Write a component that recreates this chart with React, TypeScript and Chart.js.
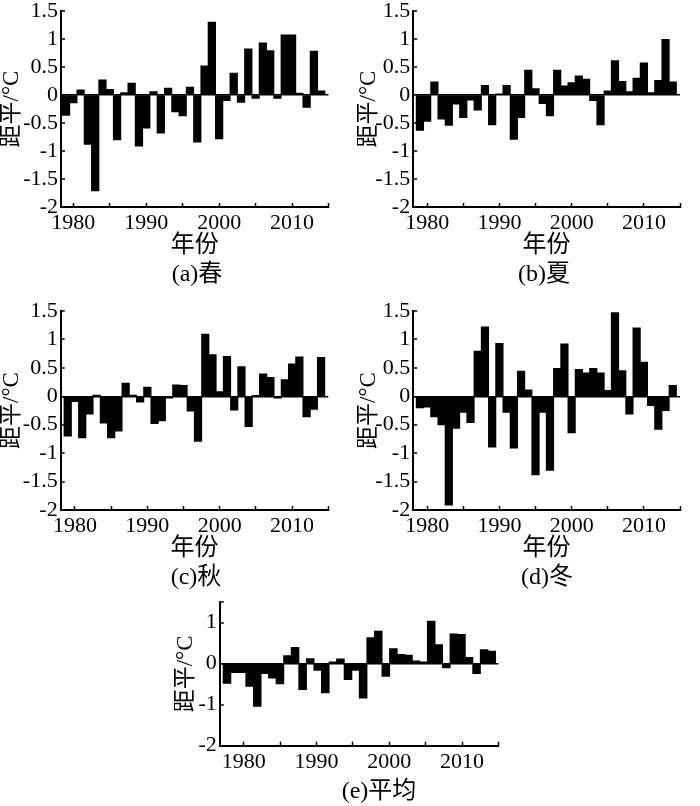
import React, { useEffect, useRef } from 'react';
import { Chart, registerables } from 'chart.js';

Chart.register(...registerables);

// ---- data ----
const years = [
  1979, 1980, 1981, 1982, 1983, 1984, 1985, 1986, 1987, 1988,
  1989, 1990, 1991, 1992, 1993, 1994, 1995, 1996, 1997, 1998,
  1999, 2000, 2001, 2002, 2003, 2004, 2005, 2006, 2007, 2008,
  2009, 2010, 2011, 2012, 2013, 2014,
];

const springValues = [
  -0.36, -0.14, 0.09, -0.88, -1.71, 0.27, 0.10, -0.80, 0.04, 0.21,
  -0.91, -0.59, 0.06, -0.68, 0.12, -0.30, -0.37, 0.14, -0.84, 0.52,
  1.30, -0.78, -0.10, 0.39, -0.13, 0.82, -0.06, 0.93, 0.79, -0.06,
  1.07, 1.07, 0.03, -0.22, 0.78, 0.07,
];

const summerValues = [
  -0.63, -0.47, 0.23, -0.43, -0.54, -0.16, -0.40, -0.09, -0.27, 0.17,
  -0.53, 0.02, 0.17, -0.79, -0.40, 0.44, 0.11, -0.15, -0.37, 0.44,
  0.16, 0.22, 0.34, 0.28, -0.10, -0.53, 0.07, 0.61, 0.24, 0.06,
  0.30, 0.57, 0.04, 0.26, 0.99, 0.23,
];

const autumnValues = [
  -0.70, -0.09, -0.73, -0.31, 0.02, -0.47, -0.73, -0.61, 0.23, 0.02,
  -0.10, 0.16, -0.48, -0.43, -0.03, 0.20, 0.19, -0.26, -0.79, 1.09,
  0.73, 0.08, 0.70, -0.24, 0.52, -0.53, 0.01, 0.39, 0.33, -0.03,
  0.29, 0.57, 0.69, -0.36, -0.23, 0.68,
];

const winterValues = [
  -0.20, -0.19, -0.36, -0.50, -1.91, -0.56, -0.28, -0.46, 0.79, 1.22,
  -0.89, 0.93, -0.28, -0.91, 0.44, 0.11, -1.38, -0.28, -1.30, 0.49,
  0.92, -0.64, 0.47, 0.41, 0.49, 0.41, 0.10, 1.47, 0.45, -0.31,
  1.20, 0.60, -0.16, -0.58, -0.25, 0.19,
];

const annualValues = [
  -0.48, -0.22, -0.22, -0.55, -1.04, -0.24, -0.35, -0.49, 0.19, 0.39,
  -0.63, 0.12, -0.16, -0.71, 0.04, 0.11, -0.39, -0.16, -0.84, 0.63,
  0.79, -0.31, 0.36, 0.22, 0.20, 0.06, 0.04, 1.03, 0.46, -0.10,
  0.72, 0.71, 0.15, -0.24, 0.34, 0.30,
];

const xTickLabels = ['1980', '1990', '2000', '2010'];
const seasonYTickLabels = ['-2', '-1.5', '-1', '-0.5', '0', '0.5', '1', '1.5'];
const annualYTickLabels = ['-2', '-1', '0', '1'];

const yTitle = '距平/°C';
const xTitle = '年份';

// ---- layout ----
const SERIF = "'Liberation Serif', 'Times New Roman', 'Noto Sans CJK SC', serif";

type Panel = {
  id: string;
  values: number[];
  caption: string;
  xTitle: string | null;
  yStep: number;
  yLabels: string[];
  cx: number; cy: number; cw: number; ch: number;
  L: number; T: number; R: number; B: number;
  xh: number;
  xMin: number; xMax: number;
  barMin?: number; barMax?: number;
  capX: number; capY: number;
};

const panels: Panel[] = [
  {
    id: 'a', values: springValues, caption: '(a)春', xTitle, yStep: 0.5, yLabels: seasonYTickLabels,
    cx: 0, cy: -20, cw: 345, ch: 280, L: 61, T: 11, R: 328.5, B: 207, xh: 50.5,
    xMin: 1978.31, xMax: 2015, capX: 197, capY: 273,
  },
  {
    id: 'b', values: summerValues, caption: '(b)夏', xTitle, yStep: 0.5, yLabels: seasonYTickLabels,
    cx: 356.5, cy: -20, cw: 343.5, ch: 280, L: 412.7, T: 11, R: 680, B: 207, xh: 50.5,
    xMin: 1978.07, xMax: 2015, capX: 544, capY: 273,
  },
  {
    id: 'c', values: autumnValues, caption: '(c)秋', xTitle, yStep: 0.5, yLabels: seasonYTickLabels,
    cx: 0, cy: 280, cw: 345, ch: 283, L: 60.7, T: 311, R: 328.3, B: 510, xh: 50.5,
    xMin: 1978.03, xMax: 2015, capX: 196, capY: 576,
  },
  {
    id: 'd', values: winterValues, caption: '(d)冬', xTitle, yStep: 0.5, yLabels: seasonYTickLabels,
    cx: 356.5, cy: 280, cw: 343.5, ch: 283, L: 412.7, T: 311, R: 680, B: 510, xh: 50.5,
    xMin: 1978.07, xMax: 2015, capX: 547, capY: 576,
  },
  {
    id: 'e', values: annualValues, caption: '(e)平均', xTitle: null, yStep: 1, yLabels: annualYTickLabels,
    cx: 173.5, cy: 570, cw: 340, ch: 208, L: 219.3, T: 602, R: 498, B: 745.7, xh: 30,
    xMin: 1976.7, xMax: 2015, barMin: 1978.05, barMax: 2014.9, capX: 379, capY: 790,
  },
];

function buildConfig(p: Panel): any {
  const yw = p.L - p.cx;
  const padTop = p.T - p.cy;
  const padRight = p.cx + p.cw - p.R;
  const padBottom = p.cy + p.ch - (p.B + p.xh);
  const tickFont = { family: SERIF, size: 22, lineHeight: 1 };
  const separateBarAxis = p.barMin !== undefined;

  const xAxis: any = {
    type: 'linear',
    position: 'bottom',
    min: p.xMin,
    max: p.xMax,
    offset: false,
    afterFit: (s: any) => { s.height = p.xh; },
    border: { display: true, color: '#000', width: 2 },
    grid: {
      offset: false,
      drawOnChartArea: false,
      drawTicks: true,
      tickLength: -4,
      tickColor: '#000',
      tickWidth: 1.5,
      color: '#000',
    },
    ticks: {
      stepSize: 5,
      includeBounds: false,
      autoSkip: false,
      maxRotation: 0,
      minRotation: 0,
      padding: 9.5,
      color: '#000',
      font: tickFont,
      callback: (v: any) => (xTickLabels.includes(String(v)) ? String(v) : ''),
    },
    title: {
      display: !!p.xTitle,
      text: p.xTitle || '',
      color: '#000',
      font: { family: SERIF, size: 24, lineHeight: 1 },
      padding: 0,
    },
  };

  const scales: any = {
    x: xAxis,
    y: {
      type: 'linear',
      position: 'left',
      min: -2,
      max: 1.5,
      afterFit: (s: any) => { s.width = yw; },
      border: { display: true, color: '#000', width: 2 },
      grid: {
        drawOnChartArea: true,
        drawTicks: true,
        tickLength: -4,
        tickColor: '#000',
        tickWidth: 1.5,
        color: (ctx: any) => (ctx.tick && ctx.tick.value === 0 ? '#000' : 'rgba(0,0,0,0)'),
        lineWidth: (ctx: any) => (ctx.tick && ctx.tick.value === 0 ? 1.5 : 0),
      },
      ticks: {
        stepSize: p.yStep,
        includeBounds: true,
        autoSkip: false,
        padding: 7,
        color: '#000',
        font: tickFont,
        callback: (v: any) => (p.yLabels.includes(String(v)) ? String(v) : ''),
      },
      title: {
        display: true,
        text: yTitle,
        color: '#000',
        font: { family: SERIF, size: 23, lineHeight: 1 },
        padding: 0,
      },
    },
  };

  if (separateBarAxis) {
    scales.xb = {
      type: 'linear',
      position: 'bottom',
      display: false,
      min: p.barMin,
      max: p.barMax,
      offset: false,
      grid: { offset: false },
    };
  }

  return {
    type: 'bar',
    data: {
      datasets: [
        {
          data: years.map((yr, i) => ({ x: yr, y: p.values[i] })),
          xAxisID: separateBarAxis ? 'xb' : 'x',
          yAxisID: 'y',
          backgroundColor: '#000',
          borderWidth: 0,
          barPercentage: 1,
          categoryPercentage: 1,
          inflateAmount: 0.5,
        },
      ],
    },
    options: {
      responsive: false,
      animation: false,
      events: [],
      layout: { padding: { left: 0, top: padTop, right: padRight, bottom: padBottom } },
      plugins: {
        legend: { display: false },
        tooltip: { enabled: false },
        title: { display: false },
      },
      scales,
    },
  };
}

function PanelChart({ p }: { p: Panel }) {
  const ref = useRef<HTMLCanvasElement | null>(null);
  useEffect(() => {
    if (!ref.current) return;
    const chart = new Chart(ref.current, buildConfig(p));
    return () => chart.destroy();
  }, [p]);
  return (
    <canvas
      ref={ref}
      width={p.cw}
      height={p.ch}
      style={{ position: 'absolute', left: p.cx, top: p.cy, width: p.cw, height: p.ch }}
    />
  );
}

export default function App() {
  return (
    <div
      style={{
        position: 'absolute',
        left: 0,
        top: 0,
        width: 700,
        height: 806,
        overflow: 'hidden',
        background: '#fff',
      }}
    >
      {panels.map((p) => (
        <PanelChart key={p.id} p={p} />
      ))}
      {panels.map((p) => (
        <div
          key={'cap-' + p.id}
          style={{
            position: 'absolute',
            left: p.capX - 100,
            top: p.capY - 12,
            width: 200,
            textAlign: 'center',
            fontFamily: SERIF,
            fontSize: 24,
            lineHeight: '24px',
            color: '#000',
            whiteSpace: 'nowrap',
          }}
        >
          {p.caption}
        </div>
      ))}
    </div>
  );
}
